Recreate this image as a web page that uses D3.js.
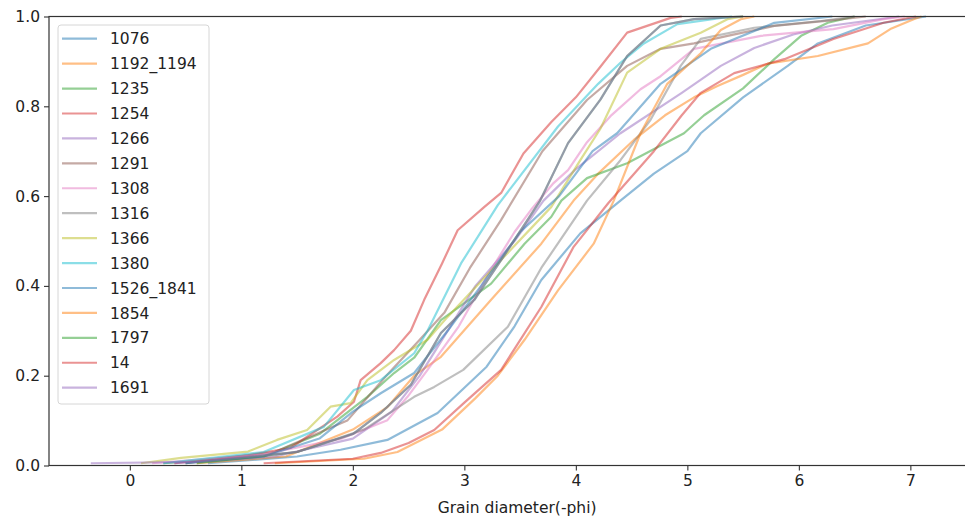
<!DOCTYPE html>
<html>
<head>
<meta charset="utf-8">
<script src="https://cdn.jsdelivr.net/npm/d3@7"></script>
<style>
    body { margin: 0; background: #fff; }
    text { font-family: "DejaVu Sans", sans-serif; fill: #222; }
</style>
</head>
<body>
<div id="chart"></div>
<script>
// sample names, in plotting order
const names = ["1076", "1192_1194", "1235", "1254", "1266", "1291", "1308", "1316",
               "1366", "1380", "1526_1841", "1854", "1797", "14", "1691"];

// cumulative curves: [grain diameter, cumulative fraction]
const s1076 = [[0.7,0.005],[1.5,0.02],[1.89,0.035],[2.31,0.057],[2.76,0.117],[3.2,0.22],[3.45,0.31],[3.69,0.413],[4.04,0.517],[4.4,0.59],[4.7,0.65],[5.0,0.70],[5.12,0.74],[5.5,0.82],[5.9,0.89],[6.17,0.94],[6.6,0.98],[7.14,1]];
const s1192_1194 = [[0.6,0.005],[1.4,0.02],[2.0,0.08],[2.31,0.13],[2.55,0.2],[2.79,0.242],[3.24,0.369],[3.69,0.494],[3.98,0.59],[4.2,0.65],[4.52,0.725],[4.8,0.78],[5.06,0.82],[5.27,0.845],[5.5,0.87],[5.72,0.895],[6.17,0.912],[6.62,0.94],[6.82,0.972],[7.03,0.994],[7.1,1]];
const s1235 = [[0.3,0.005],[1.2,0.02],[1.7,0.07],[2.13,0.153],[2.37,0.206],[2.55,0.24],[2.79,0.324],[3.24,0.405],[3.54,0.494],[3.78,0.554],[3.87,0.59],[4.1,0.64],[4.46,0.673],[4.97,0.74],[5.15,0.78],[5.5,0.84],[5.78,0.905],[6.02,0.957],[6.26,0.986],[6.5,1]];
const s1254 = [[0.4,0.005],[1.06,0.023],[1.44,0.039],[1.86,0.109],[2.01,0.142],[2.07,0.19],[2.25,0.228],[2.37,0.257],[2.52,0.30],[2.64,0.369],[2.8,0.45],[2.94,0.524],[3.18,0.576],[3.33,0.607],[3.53,0.695],[3.78,0.765],[4.0,0.82],[4.22,0.888],[4.46,0.964],[4.85,0.997],[4.95,1]];
const s1266 = [[0.4,0.005],[1.3,0.02],[2.0,0.06],[2.35,0.12],[2.6,0.2],[2.85,0.3],[3.1,0.4],[3.45,0.5],[3.71,0.59],[4.0,0.66],[4.4,0.74],[4.95,0.83],[5.3,0.89],[5.6,0.93],[5.95,0.96],[6.3,0.98],[6.9,1]];
const s1291 = [[0.5,0.005],[1.3,0.03],[1.95,0.1],[2.3,0.2],[2.6,0.28],[2.82,0.34],[3.05,0.44],[3.33,0.547],[3.7,0.7],[4.1,0.814],[4.46,0.89],[4.76,0.928],[5.06,0.94],[5.36,0.957],[5.78,0.979],[6.31,0.992],[6.6,1]];
const s1308 = [[0.2,0.005],[1.2,0.025],[1.9,0.06],[2.31,0.101],[2.49,0.153],[2.67,0.213],[2.95,0.31],[3.2,0.42],[3.45,0.52],[3.6,0.57],[3.8,0.629],[3.93,0.658],[4.1,0.72],[4.31,0.778],[4.58,0.838],[4.76,0.867],[5.06,0.928],[5.66,0.957],[6.31,0.972],[6.76,0.994],[6.95,1]];
const s1316 = [[0.5,0.005],[1.5,0.03],[2.1,0.08],[2.55,0.153],[2.73,0.175],[2.99,0.213],[3.39,0.309],[3.69,0.44],[4.1,0.59],[4.4,0.68],[4.67,0.77],[4.94,0.89],[5.12,0.95],[5.6,0.975],[6.2,0.99],[6.5,1]];
const s1366 = [[0.1,0.005],[0.46,0.017],[1.06,0.031],[1.32,0.057],[1.59,0.079],[1.80,0.131],[1.98,0.139],[2.13,0.19],[2.37,0.235],[2.67,0.28],[2.85,0.331],[3.3,0.45],[3.78,0.576],[4.04,0.68],[4.22,0.75],[4.46,0.875],[4.76,0.928],[5.12,0.964],[5.36,0.994],[5.5,1]];
const s1380 = [[0.3,0.005],[1.2,0.03],[1.74,0.086],[2.01,0.168],[2.25,0.19],[2.55,0.25],[2.67,0.30],[2.97,0.45],[3.3,0.58],[3.84,0.755],[4.2,0.85],[4.4,0.897],[4.61,0.94],[4.91,0.983],[5.4,1]];
const s1526_1841 = [[0.5,0.005],[1.2,0.02],[1.7,0.06],[2.0,0.12],[2.25,0.161],[2.55,0.206],[2.85,0.3],[3.15,0.4],[3.5,0.52],[3.85,0.6],[4.15,0.7],[4.37,0.74],[4.76,0.85],[5.21,0.928],[5.78,0.986],[6.3,1]];
const s1854 = [[1.3,0.005],[2.1,0.015],[2.4,0.03],[2.8,0.08],[3.1,0.15],[3.3,0.2],[3.54,0.28],[3.84,0.39],[4.16,0.494],[4.34,0.59],[4.58,0.74],[4.82,0.85],[5.12,0.918],[5.3,0.97],[5.48,0.994],[5.6,1]];
const s1797 = [[0.6,0.005],[1.5,0.03],[2.0,0.07],[2.25,0.117],[2.52,0.18],[2.79,0.295],[3.09,0.369],[3.39,0.48],[3.68,0.59],[3.93,0.718],[4.22,0.815],[4.46,0.912],[4.76,0.98],[5.06,0.994],[5.5,1]];
const s14 = [[1.2,0.005],[2.0,0.015],[2.25,0.028],[2.5,0.05],[2.73,0.079],[3.0,0.14],[3.33,0.213],[3.69,0.353],[3.98,0.487],[4.29,0.584],[4.7,0.70],[4.95,0.78],[5.12,0.83],[5.42,0.874],[5.87,0.905],[6.31,0.95],[6.76,0.986],[7.05,1]];
const s1691 = [[-0.35,0.005],[0.6,0.008],[1.5,0.03],[2.0,0.07],[2.25,0.117],[2.52,0.18],[2.79,0.295],[3.09,0.369],[3.39,0.48],[3.68,0.59],[3.93,0.718],[4.22,0.815],[4.46,0.912],[4.76,0.98],[5.06,0.994],[5.5,1]];

const curves = [s1076, s1192_1194, s1235, s1254, s1266, s1291, s1308, s1316,
                s1366, s1380, s1526_1841, s1854, s1797, s14, s1691];

const xTicks = [0, 1, 2, 3, 4, 5, 6, 7];
const yTicks = [0, 0.2, 0.4, 0.6, 0.8, 1.0];
const xLabel = "Grain diameter(-phi)";

const width = 965, height = 520;
const plot = {left: 49, right: 968.9, top: 16.5, bottom: 465.5};

const svg = d3.select("#chart").append("svg")
    .attr("width", width)
    .attr("height", height);

const x = d3.scaleLinear().domain([-0.725, 7.525]).range([plot.left, plot.right]);
const y = d3.scaleLinear().domain([0, 1]).range([plot.bottom, plot.top]);
const color = d3.scaleOrdinal().domain(d3.range(10)).range(d3.schemeCategory10);

const line = d3.line()
    .x(d => x(d[0]))
    .y(d => y(d[1]));

// curves
svg.append("g")
    .selectAll("path")
    .data(curves)
    .enter().append("path")
    .attr("d", d => line(d))
    .attr("fill", "none")
    .attr("stroke", (d, i) => color(i % 10))
    .attr("stroke-opacity", 0.5)
    .attr("stroke-width", 2.2)
    .attr("stroke-linejoin", "round");

// axes
const xAxis = d3.axisBottom(x).tickValues(xTicks).tickFormat(d3.format("d")).tickSize(5).tickPadding(4);
const yAxis = d3.axisLeft(y).tickValues(yTicks).tickFormat(d3.format(".1f")).tickSize(5).tickPadding(4);

const gx = svg.append("g")
    .attr("transform", "translate(0," + plot.bottom + ")")
    .call(xAxis);
const gy = svg.append("g")
    .attr("transform", "translate(" + plot.left + ",0)")
    .call(yAxis);

[gx, gy].forEach(g => {
    g.select(".domain").remove();
    g.selectAll(".tick line").attr("stroke", "#333").attr("stroke-width", 1.1);
    g.selectAll(".tick text").style("font-family", "DejaVu Sans").style("font-size", "15.5px").attr("fill", "#222");
});

// spines
svg.append("rect")
    .attr("x", plot.left)
    .attr("y", plot.top)
    .attr("width", plot.right - plot.left)
    .attr("height", plot.bottom - plot.top)
    .attr("fill", "none")
    .attr("stroke", "#333")
    .attr("stroke-width", 1.2);

svg.append("text")
    .attr("x", x(3.5) - 3)
    .attr("y", 513)
    .attr("text-anchor", "middle")
    .style("font-size", "15.5px")
    .text(xLabel);

// legend
const legend = svg.append("g");
legend.append("rect")
    .attr("x", 58).attr("y", 25)
    .attr("width", 151).attr("height", 379)
    .attr("rx", 3)
    .attr("fill", "#fff").attr("fill-opacity", 0.8)
    .attr("stroke", "#d6d6d6").attr("stroke-width", 1);

const rowY = d3.scaleLinear().domain([0, names.length - 1]).range([38.7, 387.7]);

const items = legend.selectAll("g.item")
    .data(names)
    .enter().append("g")
    .attr("class", "item")
    .attr("transform", (d, i) => "translate(0," + rowY(i) + ")");

items.append("line")
    .attr("x1", 62).attr("x2", 97)
    .attr("stroke", (d, i) => color(i % 10))
    .attr("stroke-opacity", 0.5)
    .attr("stroke-width", 2.2);

items.append("text")
    .attr("x", 110)
    .attr("dy", "0.36em")
    .style("font-size", "15.5px")
    .text(d => d);
</script>
</body>
</html>
